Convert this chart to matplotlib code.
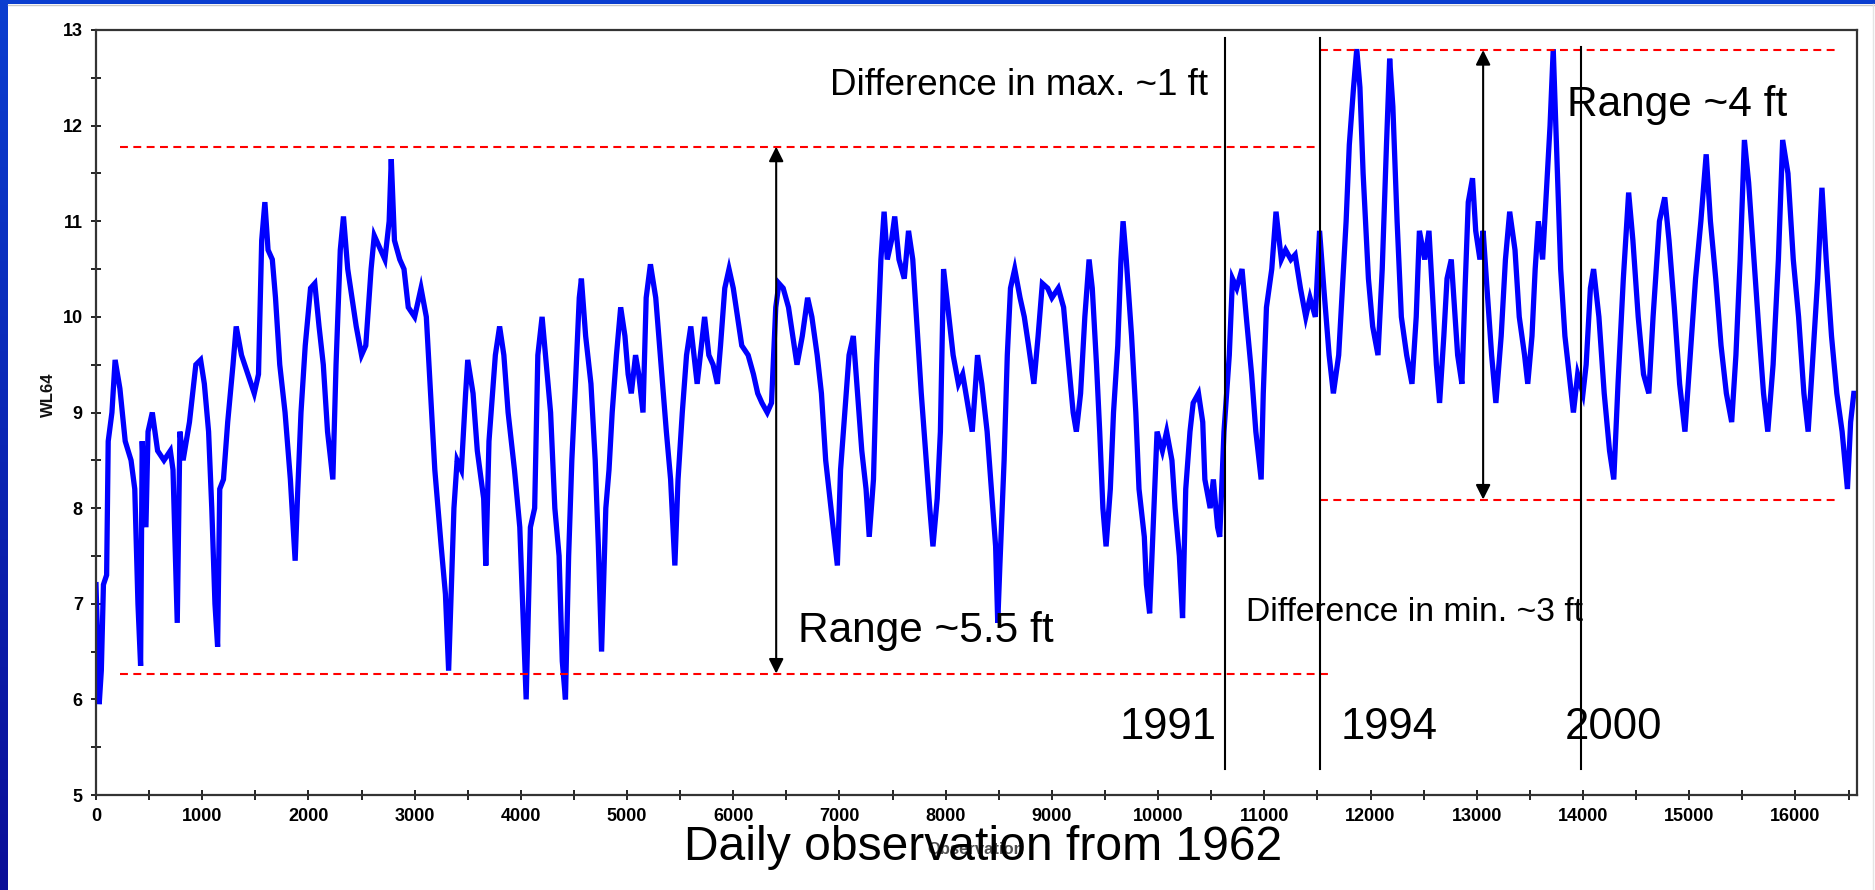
import numpy as np
import matplotlib
matplotlib.use("Agg")
import matplotlib.pyplot as plt
from matplotlib.patches import Rectangle
from matplotlib.colors import LinearSegmentedColormap

# Daily water level at well WL64 (observation number counted from 1962)
obs_day = [
    0, 15, 30, 50, 70, 100, 115, 150, 180, 225, 275, 330, 365, 395, 420, 435, 470, 490, 530, 580,
    640, 700, 725, 765, 790, 820, 880, 940, 985, 1020, 1060, 1090, 1120, 1145, 1165, 1200, 1240, 1290, 1320, 1370,
    1430, 1490, 1530, 1560, 1590, 1620, 1660, 1690, 1730, 1780, 1830, 1875, 1900, 1930, 1970, 2020, 2060, 2100, 2140, 2180,
    2230, 2260, 2300, 2330, 2370, 2410, 2450, 2500, 2540, 2590, 2620, 2680, 2720, 2760, 2780, 2810, 2860, 2900, 2940, 3000,
    3060, 3110, 3140, 3190, 3250, 3290, 3320, 3370, 3400, 3440, 3480, 3500, 3550, 3590, 3650, 3670, 3700, 3760, 3800, 3840,
    3880, 3940, 3990, 4020, 4050, 4090, 4130, 4160, 4200, 4240, 4280, 4320, 4360, 4390, 4420, 4450, 4480, 4510, 4550, 4570,
    4610, 4660, 4700, 4730, 4760, 4800, 4830, 4860, 4900, 4940, 4980, 5010, 5040, 5080, 5110, 5150, 5180, 5220, 5270, 5320,
    5370, 5410, 5450, 5480, 5520, 5560, 5600, 5630, 5660, 5700, 5730, 5770, 5810, 5850, 5880, 5920, 5960, 6000, 6040, 6080,
    6140, 6190, 6230, 6270, 6320, 6360, 6400, 6430, 6470, 6520, 6560, 6600, 6650, 6700, 6740, 6790, 6830, 6870, 6920, 6980,
    7010, 7050, 7090, 7130, 7170, 7210, 7250, 7280, 7320, 7350, 7390, 7420, 7450, 7490, 7520, 7560, 7610, 7650, 7690, 7730,
    7770, 7810, 7850, 7880, 7920, 7950, 7980, 8030, 8070, 8120, 8160, 8220, 8250, 8300, 8340, 8390, 8430, 8470, 8490, 8510,
    8550, 8580, 8610, 8650, 8700, 8740, 8780, 8830, 8870, 8910, 8960, 9000, 9060, 9110, 9150, 9200, 9230, 9270, 9310, 9350,
    9380, 9420, 9450, 9480, 9510, 9550, 9580, 9620, 9650, 9670, 9700, 9750, 9790, 9820, 9870, 9890, 9920, 9960, 9990, 10040,
    10080, 10130, 10160, 10200, 10230, 10260, 10300, 10330, 10380, 10420, 10440, 10490, 10520, 10560, 10580, 10620, 10670, 10700, 10740, 10790,
    10830, 10880, 10920, 10970, 10990, 11020, 11070, 11110, 11160, 11200, 11250, 11290, 11340, 11390, 11430, 11480, 11520, 11560, 11610, 11650,
    11700, 11730, 11770, 11800, 11840, 11870, 11900, 11930, 11980, 12020, 12070, 12110, 12150, 12180, 12210, 12250, 12290, 12340, 12390, 12430,
    12460, 12510, 12550, 12590, 12620, 12650, 12690, 12720, 12760, 12790, 12820, 12860, 12890, 12920, 12960, 12990, 13030, 13060, 13090, 13140,
    13180, 13230, 13270, 13310, 13360, 13400, 13450, 13480, 13520, 13550, 13580, 13620, 13650, 13690, 13720, 13750, 13790, 13830, 13880, 13910,
    13950, 14000, 14030, 14070, 14100, 14150, 14200, 14250, 14290, 14330, 14380, 14430, 14470, 14520, 14570, 14620, 14660, 14720, 14770, 14810,
    14860, 14910, 14960, 15010, 15060, 15110, 15160, 15200, 15250, 15300, 15350, 15400, 15440, 15480, 15520, 15560, 15610, 15660, 15700, 15740,
    15790, 15840, 15880, 15930, 15980, 16030, 16080, 16120, 16160, 16210, 16250, 16290, 16340, 16390, 16440, 16490, 16520, 16550, 16580,
]
wl64 = [
    7.2, 6.6, 5.95, 6.3, 7.2, 7.3, 8.7, 9.0, 9.55, 9.25, 8.7, 8.5, 8.2, 7.0, 6.35, 8.7, 7.8, 8.8, 9.0, 8.6,
    8.5, 8.6, 8.4, 6.8, 8.8, 8.5, 8.9, 9.5, 9.55, 9.3, 8.8, 8.0, 7.0, 6.55, 8.2, 8.3, 8.9, 9.5, 9.9, 9.6,
    9.4, 9.2, 9.4, 10.8, 11.2, 10.7, 10.6, 10.2, 9.5, 9.0, 8.3, 7.45, 8.2, 9.0, 9.7, 10.3, 10.35, 9.9, 9.5, 8.8,
    8.3, 9.5, 10.7, 11.05, 10.5, 10.2, 9.9, 9.6, 9.7, 10.5, 10.85, 10.7, 10.6, 11.0, 11.65, 10.8, 10.6, 10.5, 10.1, 10.0,
    10.3, 10.0, 9.4, 8.4, 7.6, 7.1, 6.3, 8.0, 8.5, 8.4, 9.2, 9.55, 9.2, 8.6, 8.1, 7.4, 8.7, 9.6, 9.9, 9.6,
    9.0, 8.4, 7.8, 6.9, 6.0, 7.8, 8.0, 9.6, 10.0, 9.5, 9.0, 8.0, 7.5, 6.4, 6.0, 7.5, 8.5, 9.2, 10.2, 10.4,
    9.8, 9.3, 8.5, 7.6, 6.5, 8.0, 8.4, 9.0, 9.6, 10.1, 9.8, 9.4, 9.2, 9.6, 9.4, 9.0, 10.2, 10.55, 10.2, 9.5,
    8.8, 8.3, 7.4, 8.3, 9.0, 9.6, 9.9, 9.6, 9.3, 9.7, 10.0, 9.6, 9.5, 9.3, 9.7, 10.3, 10.5, 10.3, 10.0, 9.7,
    9.6, 9.4, 9.2, 9.1, 9.0, 9.1, 10.1, 10.35, 10.3, 10.1, 9.8, 9.5, 9.8, 10.2, 10.0, 9.6, 9.2, 8.5, 8.0, 7.4,
    8.4, 9.0, 9.6, 9.8, 9.2, 8.6, 8.2, 7.7, 8.3, 9.5, 10.6, 11.1, 10.6, 10.8, 11.05, 10.6, 10.4, 10.9, 10.6, 9.9,
    9.2, 8.6, 8.0, 7.6, 8.1, 8.8, 10.5, 10.0, 9.6, 9.3, 9.4, 9.0, 8.8, 9.6, 9.3, 8.8, 8.2, 7.6, 6.8, 7.4,
    8.5, 9.6, 10.3, 10.5, 10.2, 10.0, 9.7, 9.3, 9.8, 10.35, 10.3, 10.2, 10.3, 10.1, 9.6, 9.0, 8.8, 9.2, 10.0, 10.6,
    10.3, 9.5, 8.8, 8.0, 7.6, 8.2, 9.0, 9.7, 10.6, 11.0, 10.6, 9.8, 9.0, 8.2, 7.7, 7.2, 6.9, 8.0, 8.8, 8.6,
    8.8, 8.5, 8.0, 7.5, 6.85, 8.2, 8.8, 9.1, 9.2, 8.9, 8.3, 8.0, 8.3, 7.8, 7.7, 8.8, 9.6, 10.4, 10.3, 10.5,
    10.0, 9.4, 8.8, 8.3, 9.2, 10.1, 10.5, 11.1, 10.6, 10.7, 10.6, 10.65, 10.3, 10.0, 10.2, 10.0, 10.9, 10.3, 9.6, 9.2,
    9.6, 10.2, 11.0, 11.8, 12.4, 12.8, 12.4, 11.5, 10.4, 9.9, 9.6, 10.5, 11.8, 12.7, 12.2, 11.0, 10.0, 9.6, 9.3, 10.0,
    10.9, 10.6, 10.9, 10.1, 9.5, 9.1, 9.8, 10.4, 10.6, 10.1, 9.6, 9.3, 10.3, 11.2, 11.45, 10.9, 10.6, 10.9, 10.4, 9.6,
    9.1, 9.8, 10.6, 11.1, 10.7, 10.0, 9.6, 9.3, 9.8, 10.5, 11.0, 10.6, 11.2, 12.0, 12.8, 11.8, 10.5, 9.8, 9.3, 9.0,
    9.4, 9.2, 9.5, 10.3, 10.5, 10.0, 9.2, 8.6, 8.3, 9.3, 10.4, 11.3, 10.8, 10.0, 9.4, 9.2, 10.0, 11.0, 11.25, 10.8,
    10.1, 9.3, 8.8, 9.6, 10.4, 11.0, 11.7, 11.0, 10.4, 9.7, 9.2, 8.9, 9.6, 10.6, 11.85, 11.4, 10.6, 9.8, 9.2, 8.8,
    9.5, 10.6, 11.85, 11.5, 10.6, 10.0, 9.2, 8.8, 9.5, 10.4, 11.35, 10.6, 9.8, 9.2, 8.8, 8.2, 8.9, 9.2, 9.2,
]

# Reference levels (ft) and the periods they span
early_max, early_min = 11.78, 6.27
late_max, late_min = 12.79, 8.09
early_span = (226, 11525)
early_min_span = (226, 11630)
late_span = (11525, 16384)

# Year markers (observation index, label)
year_obs = [10630, 11527, 13985]
year_labels = ["1991", "1994", "2000"]
year_label_obs = [9640, 11720, 13825]

# Range arrows (x position, bottom, top)
arrow_early = (6404, early_min, early_max)
arrow_late = (13060, late_min, late_max)

W, H = 1875, 890
fig = plt.figure(figsize=(W / 100, H / 100), dpi=100)

# slide frame: blue bands on top and left, white body
bg = fig.add_axes([0, 0, 1, 1], zorder=-10)
bg.set_xlim(0, W)
bg.set_ylim(H, 0)
bg.axis("off")
cmap = LinearSegmentedColormap.from_list("frame", ["#0a3ed0", "#0a0e98"])
grad = np.linspace(0, 1, 256).reshape(-1, 1)
bg.imshow(grad, cmap=cmap, extent=(0, W, H, 0), aspect="auto")
bg.add_patch(Rectangle((8, 4), W - 8, H - 4, facecolor="white", edgecolor="none"))
bg.plot([8, W], [4.5, 4.5], color="#c8c8c8", lw=1)
bg.plot([W - 2.5, W - 2.5], [4, H], color="#e4e4e4", lw=1)
bg.set_xlim(0, W)
bg.set_ylim(H, 0)

tick_font = dict(family=["Liberation Sans Narrow", "Liberation Sans"], weight="bold", size=13)

ax = fig.add_axes([96 / W, 1 - 795 / H, (1857 - 96) / W, (795 - 30) / H])
ax.plot(obs_day, wl64, color="#0000ff", lw=3.8, solid_joinstyle="miter", zorder=2)

ax.set_xlim(0, 16580)
ax.set_ylim(5, 13)
ax.set_xticks(np.arange(0, 16001, 1000))
ax.set_xticks(np.arange(500, 16580, 1000), minor=True)
ax.set_yticks(np.arange(5, 13.1, 1))
ax.set_yticks(np.arange(5.5, 13, 1), minor=True)
ax.set_xticklabels([str(v) for v in range(0, 16001, 1000)], **tick_font)
ax.set_yticklabels([str(v) for v in range(5, 14)], **tick_font)
ax.tick_params(which="both", direction="inout", length=7, width=1.4, color="#222222", pad=6)
for s in ax.spines.values():
    s.set_color("#333333")
    s.set_linewidth(1.6)

# dashed reference levels
dash = dict(color="red", lw=1.5, linestyle=(0, (3.8, 2.6)), zorder=3)
ax.plot(early_span, [early_max, early_max], **dash)
ax.plot(early_min_span, [early_min, early_min], **dash)
ax.plot(late_span, [late_max, late_max], **dash)
ax.plot(late_span, [late_min, late_min], **dash)

# year separators
for xo, top in zip(year_obs, [12.92, 12.92, 12.82]):
    ax.plot([xo, xo], [5.27, top], color="black", lw=1.5, zorder=4)

# range arrows
for xa, lo, hi in (arrow_early, arrow_late):
    ax.annotate("", xy=(xa, hi), xytext=(xa, lo),
                arrowprops=dict(arrowstyle="<|-|>", color="black", lw=1.5,
                                mutation_scale=22, shrinkA=0, shrinkB=0), zorder=4)

txt = dict(family="Liberation Sans", color="black", zorder=5)
ax.text(10470, 12.42, "Difference in max. ~1 ft", ha="right", va="center", fontsize=26.5, **txt)
ax.text(13850, 12.22, "Range ~4 ft", ha="left", va="center", fontsize=30.5, **txt)
ax.text(6610, 6.72, "Range ~5.5 ft", ha="left", va="center", fontsize=30.5, **txt)
ax.text(10830, 6.91, "Difference in min. ~3 ft", ha="left", va="center", fontsize=24.2, **txt)
for xo, lab in zip(year_label_obs, year_labels):
    ax.text(xo, 5.71, lab, ha="left", va="center", fontsize=31.4, **txt)

fig.text(976 / W, 1 - 850 / H, "Observation", ha="center", va="center",
         family="Liberation Sans", weight="bold", fontsize=12, color="#505050")
fig.text(48 / W, 1 - 395 / H, "WL64", ha="center", va="center", rotation=90,
         family="Liberation Sans", weight="bold", fontsize=12, color="#111111")
fig.text(983 / W, 1 - 847 / H, "Daily observation from 1962", ha="center", va="center",
         family="Liberation Sans", fontsize=34.6, color="black", zorder=10)

fig.savefig("out.png", dpi=100)
